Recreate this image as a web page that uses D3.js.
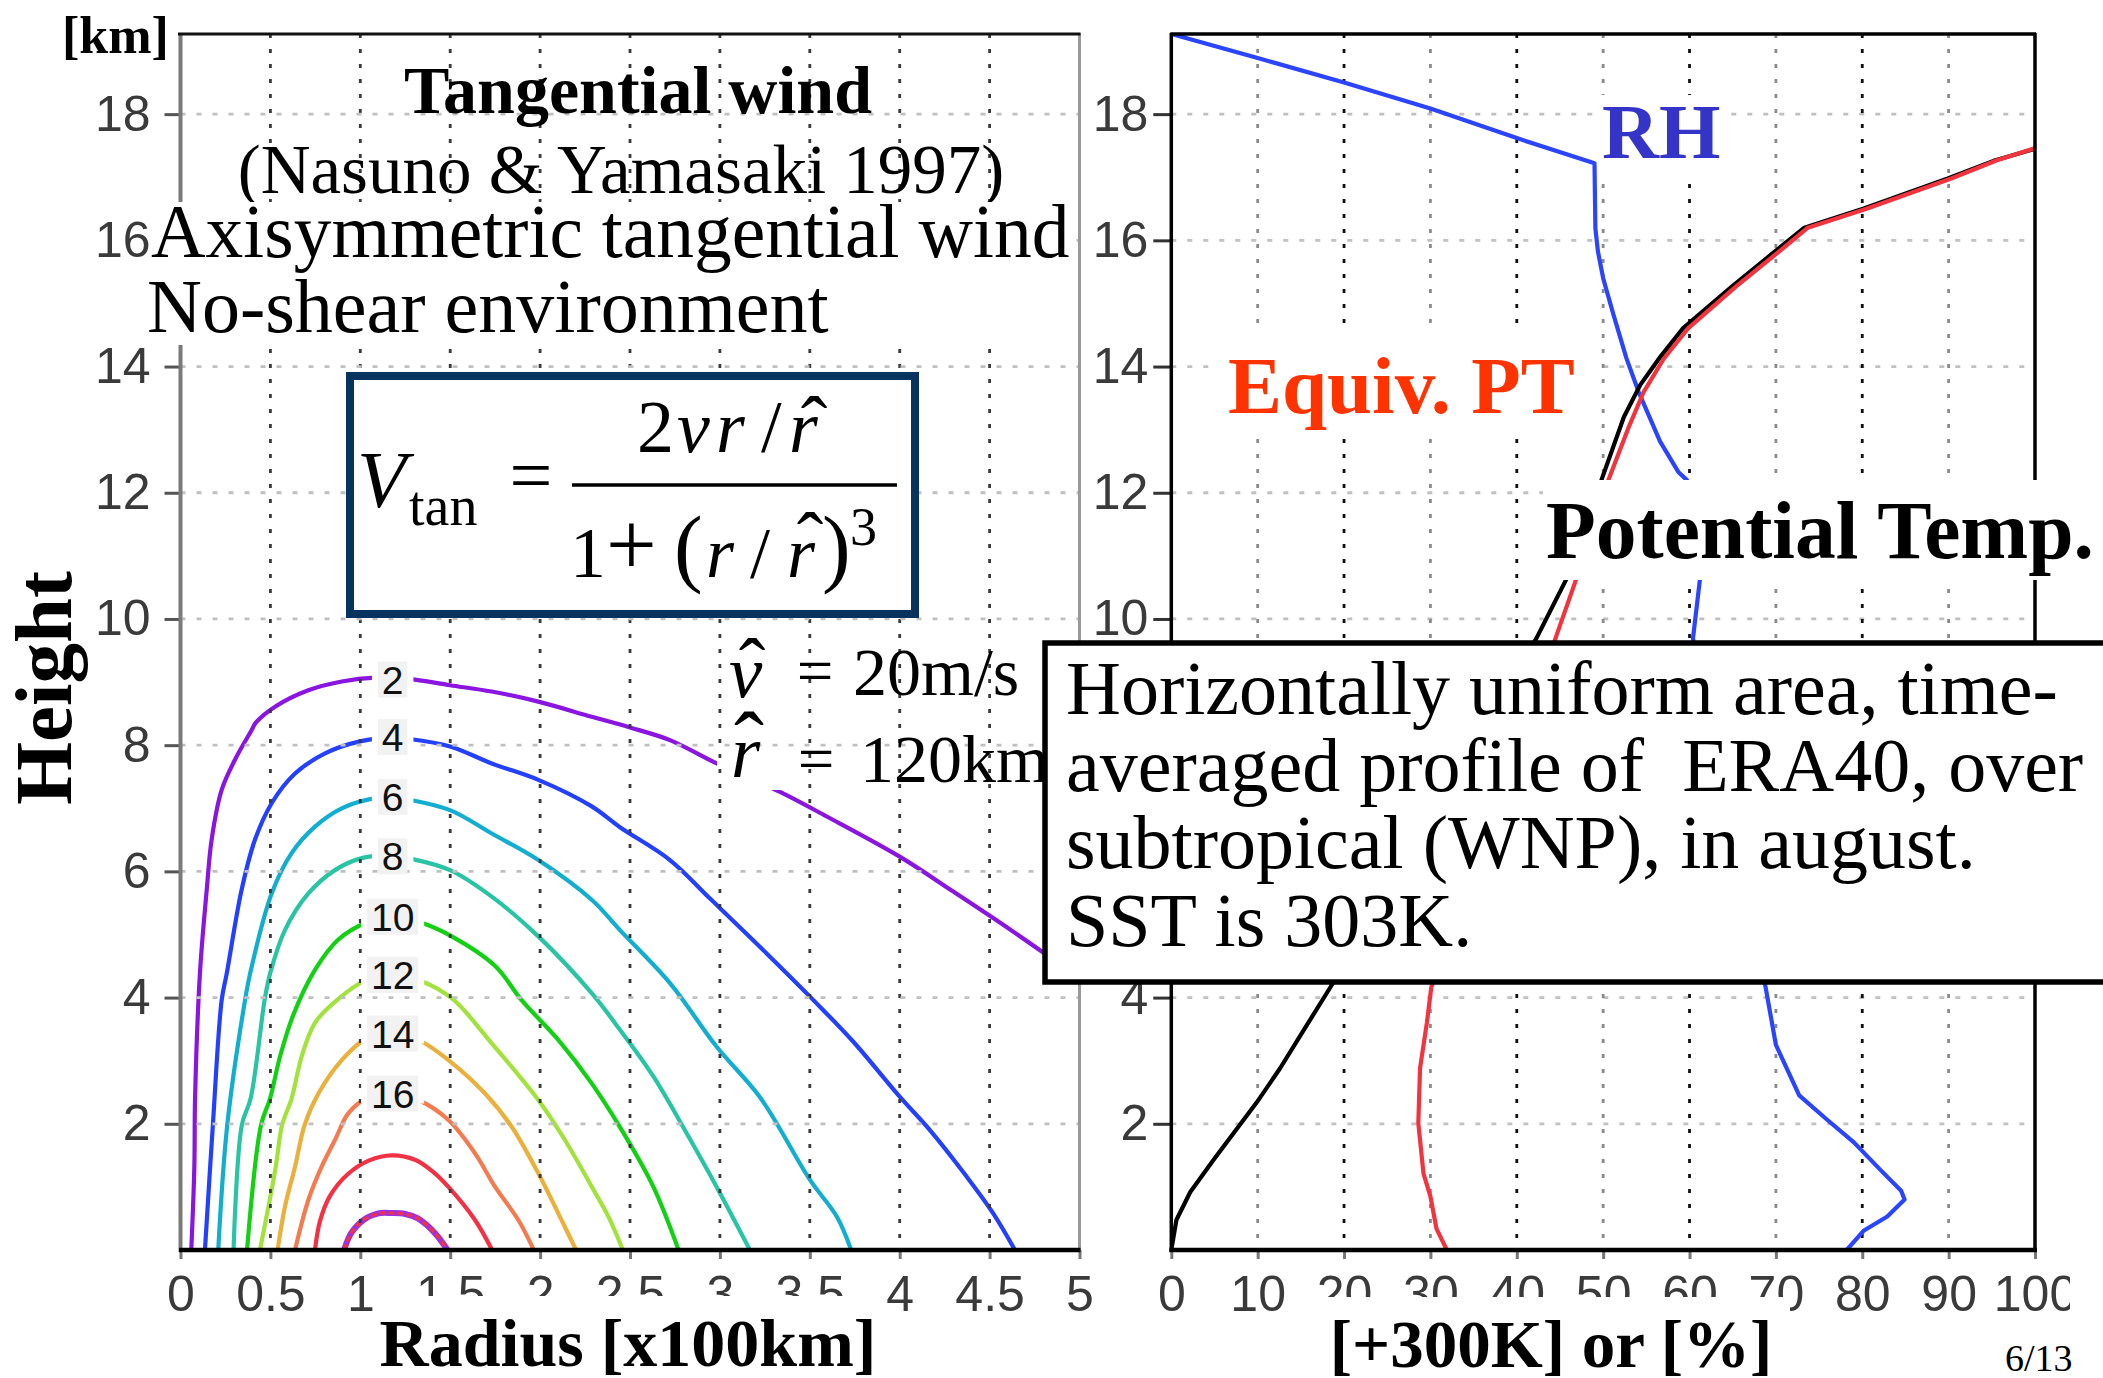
<!DOCTYPE html>
<html>
<head>
<meta charset="utf-8">
<script src="https://cdn.jsdelivr.net/npm/d3@7"></script>
<style>
  html, body { margin: 0; padding: 0; background: #fff; }
  svg { display: block; }
</style>
</head>
<body>
<svg id="fig" width="2103" height="1378"></svg>
<script>
// ---------- axis ticks ----------
const radiusTicks = [0, 0.5, 1, 1.5, 2, 2.5, 3, 3.5, 4, 4.5, 5];
const radiusTickLabels = ["0", "0.5", "1", "1.5", "2", "2.5", "3", "3.5", "4", "4.5", "5"];
const heightTicks = [2, 4, 6, 8, 10, 12, 14, 16, 18];
const profileTicks = [0, 10, 20, 30, 40, 50, 60, 70, 80, 90, 100];

// ---------- tangential wind contours: [radius (x100 km), height (km)] ----------
const contourLevels = [2, 4, 6, 8, 10, 12, 14, 16, 18, 20];
const vt02 = [[0.06,0],[0.077,1.32],[0.081,2.4],[0.108,4.38],[0.146,5.71],[0.173,6.5],[0.229,7.29],[0.303,7.77],[0.396,8.24],[0.42,8.36],[0.526,8.61],[0.711,8.87],[0.897,9.01],[1.082,9.07],[1.267,9.05],[1.499,8.95],[1.731,8.85],[1.99,8.69],[2.287,8.45],[2.5,8.28],[2.722,8.08],[2.982,7.71],[3.334,7.26],[3.594,6.87],[4.002,6.23],[4.298,5.68],[4.52,5.26],[4.79,4.73],[4.9,4.5]];
const vt04 = [[0.136,0],[0.18,1.98],[0.229,3.96],[0.257,4.38],[0.34,5.71],[0.414,6.5],[0.507,7.08],[0.637,7.55],[0.804,7.87],[0.998,8.06],[1.18,8.12],[1.267,8.1],[1.499,7.98],[1.731,7.71],[1.99,7.45],[2.287,7.03],[2.444,6.7],[2.722,6.18],[2.945,5.57],[3.26,4.7],[3.52,3.96],[3.742,3.3],[4.0,2.43],[4.168,1.9],[4.373,1.16],[4.52,0.58],[4.641,0]];
const vt06 = [[0.21,0],[0.26,1.98],[0.359,3.96],[0.387,4.38],[0.507,5.65],[0.618,6.29],[0.748,6.71],[0.897,7.0],[1.082,7.16],[1.18,7.18],[1.267,7.14],[1.499,6.97],[1.731,6.6],[1.99,6.18],[2.287,5.55],[2.444,5.07],[2.722,4.23],[2.982,3.22],[3.223,2.42],[3.501,1.11],[3.65,0.53],[3.73,0]];
const vt08 = [[0.295,0],[0.341,1.98],[0.39,2.4],[0.47,4.0],[0.5,4.4],[0.581,5.07],[0.711,5.65],[0.859,6.02],[1.008,6.21],[1.18,6.25],[1.267,6.21],[1.499,6.02],[1.731,5.6],[1.99,4.97],[2.287,4.07],[2.444,3.49],[2.63,2.75],[2.815,1.85],[2.982,1.0],[3.167,0]];
const vt10 = [[0.37,0],[0.448,1.98],[0.498,2.4],[0.554,3.07],[0.628,3.73],[0.748,4.44],[0.878,4.92],[1.035,5.19],[1.18,5.28],[1.323,5.2],[1.508,4.97],[1.75,4.5],[1.897,3.96],[2.101,3.33],[2.287,2.64],[2.454,1.9],[2.63,1.0],[2.77,0]];
const vt12 = [[0.442,0],[0.49,0.7],[0.53,1.32],[0.565,1.98],[0.618,2.4],[0.674,3.07],[0.748,3.6],[0.87,3.96],[1.035,4.28],[1.18,4.36],[1.323,4.28],[1.508,3.99],[1.731,3.275],[1.99,2.377],[2.138,1.743],[2.287,1.004],[2.38,0.528],[2.46,0]];
const vt14 = [[0.54,0],[0.581,0.687],[0.637,1.32],[0.69,1.98],[0.767,2.48],[0.897,3.01],[1.035,3.355],[1.18,3.43],[1.323,3.33],[1.49,3.01],[1.694,2.48],[1.842,1.954],[1.99,1.215],[2.101,0.581],[2.2,0]];
const vt16 = [[0.637,0],[0.711,0.792],[0.785,1.32],[0.859,1.743],[0.933,2.166],[1.035,2.404],[1.18,2.48],[1.323,2.377],[1.49,2.06],[1.638,1.532],[1.749,1.004],[1.879,0.475],[1.965,0]];
const vt18 = [[0.748,0],[0.775,0.45],[0.83,0.85],[0.93,1.2],[1.05,1.42],[1.175,1.5],[1.304,1.43],[1.4,1.25],[1.49,1.0],[1.638,0.475],[1.733,0]];
const vt20 = [[0.91,0],[0.95,0.27],[1.02,0.48],[1.1,0.58],[1.175,0.585],[1.25,0.57],[1.32,0.5],[1.416,0.264],[1.485,0]];
const contourLines = [vt02, vt04, vt06, vt08, vt10, vt12, vt14, vt16, vt18, vt20];

// contour labels sit on the crest of each labelled contour
const labelledLevels = [2, 4, 6, 8, 10, 12, 14, 16];
const labelHeights = [9.04, 8.13, 7.18, 6.24, 5.28, 4.36, 3.43, 2.48];
const labelRadius = 1.18;

// ---------- ERA40 August profiles: [value, height (km)] ----------
const rhProfile = [[78.2,0],[80.2,0.31],[82.9,0.53],[84.9,0.8],[84.5,0.94],[82.1,1.27],[79.0,1.71],[75.8,2.08],[72.7,2.45],[70.0,3.25],[68.8,4.17],[60.4,9.69],[61.2,10.62],[59.7,12.2],[58.7,12.33],[56.6,12.81],[54.1,13.6],[52.7,14.13],[51.2,14.82],[50.0,15.4],[49.4,15.82],[49.1,16.19],[49.0,17.22],[40,17.62],[30,18.09],[20,18.5],[10,18.89],[0,19.27]];
const thetaProfile = [[0,0],[0.6,0.48],[2.2,0.92],[4.9,1.43],[9.9,2.34],[12.6,2.88],[14.9,3.39],[18.4,4.16],[42.3,9.7],[45.7,10.62],[49.8,12.2],[52.4,13.2],[54.3,13.71],[56.6,14.15],[59.2,14.6],[65.0,15.28],[69.5,15.78],[73.3,16.2],[80.1,16.5],[89.9,16.98],[95.2,17.26],[100,17.45]];
const thetaEProfile = [[31.9,0],[30.7,0.34],[30.0,0.85],[29.2,1.21],[28.6,2.01],[28.8,2.88],[29.6,3.61],[30.1,4.16],[44.5,9.7],[46.85,10.62],[50.6,12.2],[52.9,13.02],[54.7,13.6],[57.0,14.12],[59.8,14.6],[65.4,15.27],[69.9,15.77],[73.7,16.2],[80.5,16.5],[90.3,16.98],[95.6,17.27],[100,17.46]];

// ---------- text ----------
const descriptionLines = [
  "Horizontally uniform area, time-",
  "averaged profile of  ERA40, over",
  "subtropical (WNP), in august.",
  "SST is 303K."
];

// ---------- drawing ----------
const SERIF = "'Liberation Serif','Times New Roman',serif";
const SANS = "'Liberation Sans',Arial,sans-serif";
const svg = d3.select("#fig");
svg.append("rect").attr("width", 2103).attr("height", 1378).attr("fill", "#fff");

const xL = d3.scaleLinear().domain([0, 5]).range([180.5, 1079.5]);
const yL = d3.scaleLinear().domain([0, 19.27]).range([1250, 34]);
const xR = d3.scaleLinear().domain([0, 100]).range([1171.3, 2035]);
const yR = yL.copy();

const contourColors = ["#8a14e0", "#2440ff", "#12aed0", "#28c4a4", "#12d012", "#a2e23c", "#ebaf3c", "#f47a50", "#f23244", "#f23244"];

function txt(parent, x, y, s, o = {}) {
  return parent.append("text")
    .attr("x", x).attr("y", y)
    .attr("font-family", o.family || SERIF)
    .attr("font-size", o.size || 40)
    .attr("font-weight", o.weight || "normal")
    .attr("font-style", o.style || "normal")
    .attr("fill", o.fill || "#000")
    .attr("text-anchor", o.anchor || "start")
    .style("white-space", "pre")
    .text(s);
}

// clip regions for the two panels
const defs = svg.append("defs");
defs.append("clipPath").attr("id", "clipL").append("rect")
  .attr("x", xL(0)).attr("y", yL(19.27)).attr("width", xL(5) - xL(0)).attr("height", yL(0) - yL(19.27));
defs.append("clipPath").attr("id", "clipR").append("rect")
  .attr("x", xR(0)).attr("y", yR(19.27)).attr("width", xR(100) - xR(0)).attr("height", yR(0) - yR(19.27));
// the last profile tick label runs off the right edge of the figure
defs.append("clipPath").attr("id", "clipRx").append("rect")
  .attr("x", 1100).attr("y", -10).attr("width", 970).attr("height", 140);

// ----- left panel: contours -----
const contourLine = d3.line().x(d => xL(d[0])).y(d => yL(d[1])).curve(d3.curveCatmullRom.alpha(0.5));
const gC = svg.append("g").attr("clip-path", "url(#clipL)");
contourLines.forEach((pts, i) => {
  if (contourLevels[i] === 20) {
    gC.append("path").attr("d", contourLine(pts)).attr("fill", "none")
      .attr("stroke", "#9a30e8").attr("stroke-width", 6);
    gC.append("path").attr("d", contourLine(pts)).attr("fill", "none")
      .attr("stroke", contourColors[i]).attr("stroke-width", 3.4)
      .attr("stroke-dasharray", "6,3");
  } else {
    gC.append("path").attr("d", contourLine(pts)).attr("fill", "none")
      .attr("stroke", contourColors[i]).attr("stroke-width", 4.2)
      .attr("stroke-linejoin", "round");
  }
});

// white backing of the parameter note
svg.append("rect").attr("x", 717).attr("y", 628).attr("width", 330).attr("height", 162).attr("fill", "#fff");

// ----- grids -----
const gGrid = svg.append("g");
radiusTicks.slice(1, -1).forEach(r => {
  gGrid.append("line").attr("x1", xL(r)).attr("x2", xL(r)).attr("y1", yL(19.27)).attr("y2", yL(0))
    .attr("stroke", "#3a3a3a").attr("stroke-width", 2.8).attr("stroke-dasharray", "4,11");
});
heightTicks.forEach(h => {
  gGrid.append("line").attr("x1", xL(0)).attr("x2", xL(5)).attr("y1", yL(h)).attr("y2", yL(h))
    .attr("stroke", "#c0c0c0").attr("stroke-width", 2.8).attr("stroke-dasharray", "5,11");
  gGrid.append("line").attr("x1", xR(0)).attr("x2", xR(100)).attr("y1", yR(h)).attr("y2", yR(h))
    .attr("stroke", "#c0c0c0").attr("stroke-width", 2.8).attr("stroke-dasharray", "5,11");
});
profileTicks.slice(1, -1).forEach(p => {
  gGrid.append("line").attr("x1", xR(p)).attr("x2", xR(p)).attr("y1", yR(19.27)).attr("y2", yR(0))
    .attr("stroke", (p / 10) % 2 === 0 ? "#111" : "#8a8a8a").attr("stroke-width", 2.8).attr("stroke-dasharray", "4,11");
});

// ----- contour labels -----
const gLab = svg.append("g");
labelledLevels.forEach((lev, i) => {
  const cx = xL(labelRadius), cy = yL(labelHeights[i]);
  const s = String(lev);
  const w = s.length * 21.5 + 8;
  gLab.append("rect").attr("x", cx - w / 2 - 6).attr("y", cy - 10).attr("width", w + 12).attr("height", 20).attr("fill", "#fff");
  gLab.append("rect").attr("x", cx - w / 2).attr("y", cy - 18).attr("width", w).attr("height", 36).attr("fill", "#f2f2f2");
  txt(gLab, cx, cy, s, { family: SANS, size: 39, anchor: "middle", fill: "#111" }).attr("dy", "0.36em");
});

// ----- right panel: profiles -----
const profLine = d3.line().x(d => xR(d[0])).y(d => yR(d[1]));
const gP = svg.append("g").attr("clip-path", "url(#clipR)");
gP.append("path").attr("d", profLine(rhProfile)).attr("fill", "none").attr("stroke", "#2a44ff").attr("stroke-width", 4.2).attr("stroke-linejoin", "round");
gP.append("path").attr("d", profLine(thetaProfile)).attr("fill", "none").attr("stroke", "#000").attr("stroke-width", 4.2).attr("stroke-linejoin", "round");
gP.append("path").attr("d", profLine(thetaEProfile)).attr("fill", "none").attr("stroke", "#f2343e").attr("stroke-width", 4.2).attr("stroke-linejoin", "round");

// ----- axes -----
function styleAxis(g, tickColor) {
  g.select(".domain").remove();
  g.selectAll(".tick line").attr("stroke", tickColor).attr("stroke-width", 3);
  g.selectAll(".tick text").attr("font-family", SANS).attr("font-size", 50).attr("fill", "#3a3a3a");
}
const axLY = svg.append("g").attr("transform", `translate(${xL(0)},0)`)
  .call(d3.axisLeft(yL).tickValues(heightTicks).tickSize(16).tickPadding(14));
styleAxis(axLY, "#555");
const axLX = svg.append("g").attr("transform", `translate(0,${yL(0)})`)
  .call(d3.axisBottom(xL).tickValues(radiusTicks).tickFormat((d, i) => radiusTickLabels[i]).tickSize(9).tickPadding(16));
styleAxis(axLX, "#777");
const axRY = svg.append("g").attr("transform", `translate(${xR(0)},0)`)
  .call(d3.axisLeft(yR).tickValues(heightTicks).tickSize(18).tickPadding(5));
styleAxis(axRY, "#333");
const axRX = svg.append("g").attr("transform", `translate(0,${yR(0)})`).attr("clip-path", "url(#clipRx)")
  .call(d3.axisBottom(xR).tickValues(profileTicks).tickSize(9).tickPadding(16));
styleAxis(axRX, "#777");

// ----- frames -----
const gF = svg.append("g");
gF.append("line").attr("x1", xL(0)).attr("x2", xL(0)).attr("y1", 33).attr("y2", 1252).attr("stroke", "#7a7a7a").attr("stroke-width", 4);
gF.append("line").attr("x1", xL(5)).attr("x2", xL(5)).attr("y1", 33).attr("y2", 1250).attr("stroke", "#9a9a9a").attr("stroke-width", 3);
gF.append("line").attr("x1", 178).attr("x2", xL(5) + 1).attr("y1", 34).attr("y2", 34).attr("stroke", "#111").attr("stroke-width", 3);
gF.append("line").attr("x1", 179).attr("x2", xL(5) + 1).attr("y1", 1250).attr("y2", 1250).attr("stroke", "#000").attr("stroke-width", 4.5);
gF.append("line").attr("x1", xR(0)).attr("x2", xR(0)).attr("y1", 33).attr("y2", 1252).attr("stroke", "#000").attr("stroke-width", 3.5);
gF.append("line").attr("x1", xR(100)).attr("x2", xR(100)).attr("y1", 33).attr("y2", 1252).attr("stroke", "#000").attr("stroke-width", 3.5);
gF.append("line").attr("x1", xR(0) - 1).attr("x2", xR(100) + 1).attr("y1", 34).attr("y2", 34).attr("stroke", "#000").attr("stroke-width", 3.5);
gF.append("line").attr("x1", xR(0) - 2).attr("x2", xR(100) + 2).attr("y1", 1250).attr("y2", 1250).attr("stroke", "#000").attr("stroke-width", 4.5);

// ----- axis titles (their boxes hide the lower part of the middle tick labels) -----
svg.append("rect").attr("x", 375).attr("y", 1296).attr("width", 507).attr("height", 82).attr("fill", "#fff");
txt(svg, 628, 1366, "Radius [x100km]", { size: 68, weight: "bold", anchor: "middle" });
svg.append("rect").attr("x", 1318).attr("y", 1297).attr("width", 472).attr("height", 81).attr("fill", "#fff");
txt(svg, 1551, 1367, "[+300K] or [%]", { size: 67, weight: "bold", anchor: "middle" });
txt(svg, 0, 0, "Height", { size: 81, weight: "bold", anchor: "middle" })
  .attr("transform", "translate(71,688) rotate(-90)");
txt(svg, 62, 53, "[km]", { size: 52, weight: "bold" });
txt(svg, 2005, 1371, "6/13", { size: 38 });

// ----- left panel annotations -----
txt(svg, 638, 113, "Tangential wind", { size: 68, weight: "bold", anchor: "middle" });
txt(svg, 621, 193, "(Nasuno & Yamasaki 1997)", { size: 69, anchor: "middle" });
svg.append("rect").attr("x", 151).attr("y", 202).attr("width", 925).attr("height", 143).attr("fill", "#fff");
txt(svg, 151, 257, "Axisymmetric tangential wind", { size: 75.5 });
txt(svg, 147, 332, "No-shear environment", { size: 76 });

// formula box
svg.append("rect").attr("x", 350).attr("y", 376).attr("width", 565).attr("height", 238)
  .attr("fill", "#fff").attr("stroke", "#07335f").attr("stroke-width", 8);
const gEq = svg.append("g");
txt(gEq, 357, 507, "V", { size: 81, style: "italic" });
txt(gEq, 409, 525, "tan", { size: 56 });
txt(gEq, 531, 501, "=", { size: 76, anchor: "middle" });
gEq.append("line").attr("x1", 572).attr("x2", 897).attr("y1", 485).attr("y2", 485).attr("stroke", "#000").attr("stroke-width", 3.5);
txt(gEq, 637, 452, "2", { size: 74 });
txt(gEq, 677, 452, "v", { size: 74, style: "italic" });
txt(gEq, 716, 452, "r", { size: 74, style: "italic" });
txt(gEq, 761, 452, "/", { size: 74 });
txt(gEq, 789, 452, "r", { size: 74, style: "italic" });
txt(gEq, 814, 452, "\u02C6", { size: 80, anchor: "middle" });
txt(gEq, 570, 577, "1", { size: 72 });
txt(gEq, 606, 575, "+", { size: 90 });
txt(gEq, 674, 576, "(", { size: 86 });
txt(gEq, 706, 577, "r", { size: 72, style: "italic" });
txt(gEq, 750, 577, "/", { size: 72 });
txt(gEq, 787, 577, "r", { size: 72, style: "italic" });
txt(gEq, 810, 568, "\u02C6", { size: 80, anchor: "middle" });
txt(gEq, 822, 576, ")", { size: 86 });
txt(gEq, 850, 545, "3", { size: 54 });

// parameter note
const gPar = svg.append("g");
txt(gPar, 729, 697, "v", { size: 75, style: "italic" });
txt(gPar, 752, 694, "\u02C6", { size: 80, anchor: "middle" });
txt(gPar, 815, 693, "=", { size: 65, anchor: "middle" });
txt(gPar, 853, 695, "20m/s", { size: 68 });
txt(gPar, 731, 777, "r", { size: 75, style: "italic" });
txt(gPar, 749, 775, "\u02C6", { size: 90, anchor: "middle" });
txt(gPar, 816, 781, "=", { size: 65, anchor: "middle" });
txt(gPar, 860, 782, "120km", { size: 68 });

// ----- right panel annotations -----
svg.append("rect").attr("x", 1600).attr("y", 95).attr("width", 128).attr("height", 85).attr("fill", "#fff");
txt(svg, 1602, 158, "RH", { size: 79, weight: "bold", fill: "#3434c8" });
svg.append("rect").attr("x", 1210).attr("y", 325).attr("width", 386).attr("height", 112).attr("fill", "#fff");
txt(svg, 1228, 413, "Equiv. PT", { size: 81, weight: "bold", fill: "#ff3300" });
svg.append("rect").attr("x", 1543).attr("y", 480).attr("width", 560).attr("height", 100).attr("fill", "#fff");
txt(svg, 1546, 558, "Potential Temp.", { size: 81.5, weight: "bold" });

// description box
svg.append("rect").attr("x", 1045).attr("y", 643).attr("width", 1070).attr("height", 339)
  .attr("fill", "#fff").attr("stroke", "#000").attr("stroke-width", 5.5);
const lineBase = [714, 791, 868, 946];
descriptionLines.forEach((s, i) => txt(svg, 1066, lineBase[i], s, { size: 76 }));
</script>
</body>
</html>
